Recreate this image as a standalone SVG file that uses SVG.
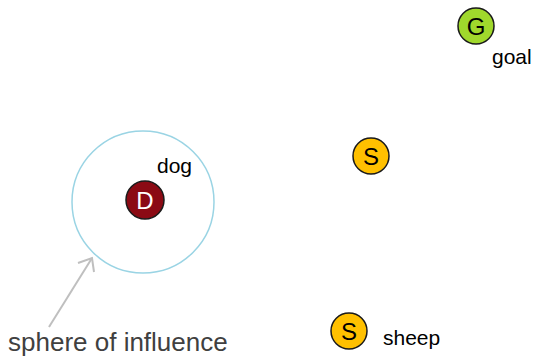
<svg xmlns="http://www.w3.org/2000/svg" width="538" height="358" viewBox="0 0 538 358">
<defs>
<style>
.node{stroke:#1a1a1a;stroke-width:1.5}
.letter{font-family:"Liberation Sans",Arial,sans-serif;font-size:24px;text-anchor:middle}
.lbl{font-family:"Liberation Sans",Arial,sans-serif;font-size:21px;fill:#000}
</style>
</defs>
<g id="sphere">
<circle cx="143" cy="202" r="71" fill="none" stroke="#9AD4E4" stroke-width="1.5"/>
</g>
<g id="dog">
<circle class="node" cx="145" cy="200" r="19" fill="#8B0A14"/>
<text class="letter" x="145" y="208.5" fill="#ffffff">D</text>
<text class="lbl" x="157" y="173">dog</text>
</g>
<g id="goal">
<circle class="node" cx="476" cy="26" r="18" fill="#A0D82C"/>
<text class="letter" x="476" y="34.5" fill="#000">G</text>
<text class="lbl" x="492" y="64">goal</text>
</g>
<g id="sheep1">
<circle class="node" cx="371" cy="156" r="18" fill="#FFC000"/>
<text class="letter" x="371" y="164.5" fill="#000">S</text>
</g>
<g id="sheep2">
<circle class="node" cx="349" cy="331" r="18" fill="#FFC000"/>
<text class="letter" x="349" y="339.5" fill="#000">S</text>
<text class="lbl" x="383" y="345">sheep</text>
</g>
<g id="connectors">
<line x1="49" y1="327" x2="92" y2="258" stroke="#BFBFBF" stroke-width="2"/>
<polyline points="78,263 92,258 94,272" fill="none" stroke="#BFBFBF" stroke-width="2"/>
</g>
<g id="caption">
<text x="8" y="351" font-family="'Liberation Sans',Arial,sans-serif" font-size="26" fill="#404040">sphere of influence</text>
</g>
</svg>
